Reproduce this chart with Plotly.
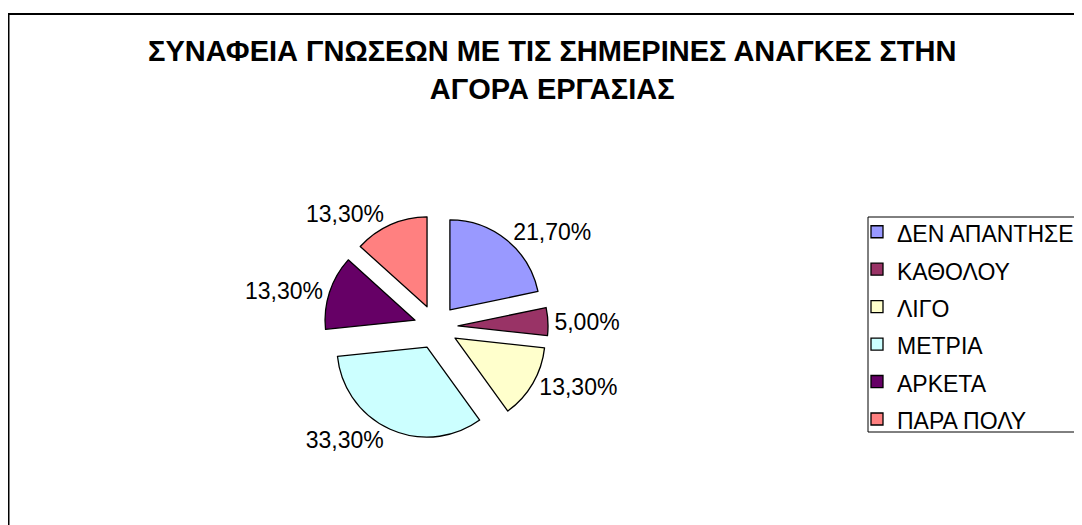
import plotly.graph_objects as go

categories = ["ΔΕΝ ΑΠΑΝΤΗΣΕ", "ΚΑΘΟΛΟΥ", "ΛΙΓΟ", "ΜΕΤΡΙΑ", "ΑΡΚΕΤΑ", "ΠΑΡΑ ΠΟΛΥ"]
values = [21.7, 5.0, 13.3, 33.3, 13.3, 13.3]
colors = ["#9999FF", "#993366", "#FFFFCC", "#CCFFFF", "#660066", "#FF8080"]
title_lines = ["ΣΥΝΑΦΕΙΑ ΓΝΩΣΕΩΝ ΜΕ ΤΙΣ ΣΗΜΕΡΙΝΕΣ ΑΝΑΓΚΕΣ ΣΤΗΝ", "ΑΓΟΡΑ ΕΡΓΑΣΙΑΣ"]

labels_txt = [f"{v:.2f}%".replace(".", ",") for v in values]
legend_labels = [f"<span style='font-size:23px'>{c}</span>" for c in categories]

# page body has an 8px margin; figure sized to fit the window
W, H = 1074, 517
FONT = "Liberation Sans, Arial"
cx, cy, r, pull = 428, 319, 90, 0.245
half = r * (1 + pull)

fig = go.Figure(go.Pie(
    labels=legend_labels,
    values=values,
    text=labels_txt,
    textinfo="text",
    textposition="outside",
    sort=False,
    direction="clockwise",
    rotation=0,
    pull=[pull] * len(values),
    marker=dict(colors=colors, line=dict(color="black", width=1.3)),
    textfont=dict(family=FONT, size=23, color="black"),
    domain=dict(x=[(cx - half) / W, (cx + half) / W],
                y=[1 - (cy + half) / H, 1 - (cy - half) / H]),
    hoverinfo="text",
))

fig.update_layout(
    width=W, height=H,
    margin=dict(l=0, r=0, t=0, b=0),
    paper_bgcolor="white",
    plot_bgcolor="white",
    annotations=[dict(text="<br>".join(title_lines), xref="paper", yref="paper",
                      x=544 / W, y=1 - 62 / H, xanchor="center", yanchor="middle",
                      showarrow=False, align="center",
                      font=dict(family=FONT, size=29, color="black", weight="bold"))],
    legend=dict(x=(889 - 40) / W, y=1 - 200 / H, xanchor="left", yanchor="top",
                borderwidth=0, bgcolor="rgba(0,0,0,0)",
                font=dict(family=FONT, size=26.5, color="black")),
    shapes=[
        dict(type="rect", xref="paper", yref="paper",
             x0=0.5 / W, x1=1.05, y0=-0.05, y1=1 - 6 / H,
             line=dict(color="black", width=2), fillcolor="rgba(0,0,0,0)", layer="below"),
        dict(type="rect", xref="paper", yref="paper",
             x0=860 / W, x1=1072 / W, y0=1 - 424 / H, y1=1 - 209 / H,
             line=dict(color="black", width=1), fillcolor="white", layer="below"),
    ],
)

fig.write_html("out.html")
